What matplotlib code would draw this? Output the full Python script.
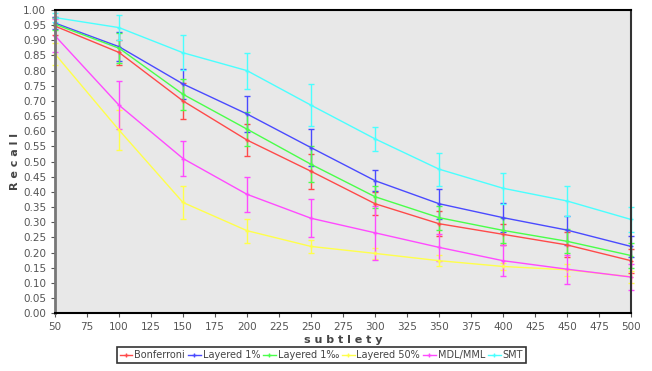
import numpy as np
import matplotlib.pyplot as plt
from matplotlib.lines import Line2D

## subtlety levels (x axis)
subtlety = [50, 100, 150, 200, 250, 300, 350, 400, 450, 500]

## recall per method
bonferroni = [0.947, 0.860, 0.700, 0.571, 0.468, 0.361, 0.295, 0.260, 0.225, 0.173]
layered1 = [0.957, 0.879, 0.756, 0.657, 0.546, 0.437, 0.361, 0.315, 0.274, 0.220]
layered1pm = [0.953, 0.874, 0.722, 0.607, 0.491, 0.384, 0.315, 0.273, 0.237, 0.190]
layered50 = [0.855, 0.604, 0.365, 0.272, 0.220, 0.197, 0.173, 0.154, 0.143, 0.120]
mdl = [0.915, 0.686, 0.510, 0.392, 0.313, 0.265, 0.217, 0.173, 0.145, 0.119]
smt = [0.975, 0.942, 0.859, 0.800, 0.686, 0.575, 0.475, 0.412, 0.370, 0.309]

## half width of error bars
err_bonf = [0.030, 0.041, 0.060, 0.052, 0.058, 0.037, 0.041, 0.035, 0.041, 0.040]
err_lay1 = [0.020, 0.048, 0.050, 0.058, 0.062, 0.035, 0.049, 0.047, 0.048, 0.035]
err_laypm = [0.020, 0.050, 0.052, 0.057, 0.060, 0.036, 0.040, 0.040, 0.040, 0.040]
err_lay50 = [0.037, 0.067, 0.056, 0.040, 0.020, 0.018, 0.018, 0.012, 0.019, 0.020]
err_mdl = [0.055, 0.080, 0.058, 0.057, 0.063, 0.090, 0.045, 0.051, 0.048, 0.043]
err_smt = [0.015, 0.041, 0.057, 0.059, 0.069, 0.040, 0.054, 0.051, 0.051, 0.041]

names = ['Bonferroni', 'Layered 1%', 'Layered 1‰', 'Layered 50%', 'MDL/MML', 'SMT']
series = [bonferroni, layered1, layered1pm, layered50, mdl, smt]
errs = [err_bonf, err_lay1, err_laypm, err_lay50, err_mdl, err_smt]
colors = ['#ff4a4a', '#4a4aff', '#4aff4a', '#ffff4a', '#ff4aff', '#4affff']

plt.rcParams['font.family'] = ['DejaVu Sans']
fig = plt.figure(figsize=(6.52, 3.71), dpi=100)
ax = fig.add_axes([0.0844, 0.156, 0.8834, 0.817])
ax.set_facecolor('#e8e8e8')

handles = []
for y, e, c, n in zip(series, errs, colors, names):
    ax.errorbar(subtlety, y, yerr=e, color=c, lw=1, elinewidth=1, capsize=2,
                capthick=1, marker='+', ms=3, clip_on=False)
    handles.append(Line2D([], [], color=c, lw=1, marker='+', ms=3, label=n))

ax.set_xlim(50, 500)
ax.set_ylim(0, 1)
ax.set_xticks(np.arange(50, 501, 25))
ax.set_yticks(np.arange(0, 1.001, 0.05))
ax.set_yticklabels(['%.2f' % v for v in np.arange(0, 1.001, 0.05)])
ax.tick_params(labelsize=7.5, colors='#555555', length=3, width=0.8)
for s in ['top', 'bottom']:
    ax.spines[s].set_color('black')
    ax.spines[s].set_linewidth(1.5)
ax.spines['right'].set_color('#333333')
ax.spines['right'].set_linewidth(1.5)
ax.spines['left'].set_color('#777777')
ax.spines['left'].set_linewidth(2)

ax.set_xlabel('s u b t l e t y', fontsize=8, fontweight='bold', color='#444444', labelpad=2)
ax.set_ylabel('R e c a l l', fontsize=8, fontweight='bold', color='#444444', labelpad=2)

leg = fig.legend(handles=handles, loc='center', bbox_to_anchor=(0.493, 0.043), ncol=6,
                 fontsize=7, frameon=True, fancybox=False, edgecolor='black',
                 handlelength=1.3, handletextpad=0.2, columnspacing=0.3,
                 borderpad=0.3, borderaxespad=0)
leg.get_frame().set_linewidth(1.2)
for t in leg.get_texts():
    t.set_color('#444444')

plt.savefig('out.png', dpi=100)
